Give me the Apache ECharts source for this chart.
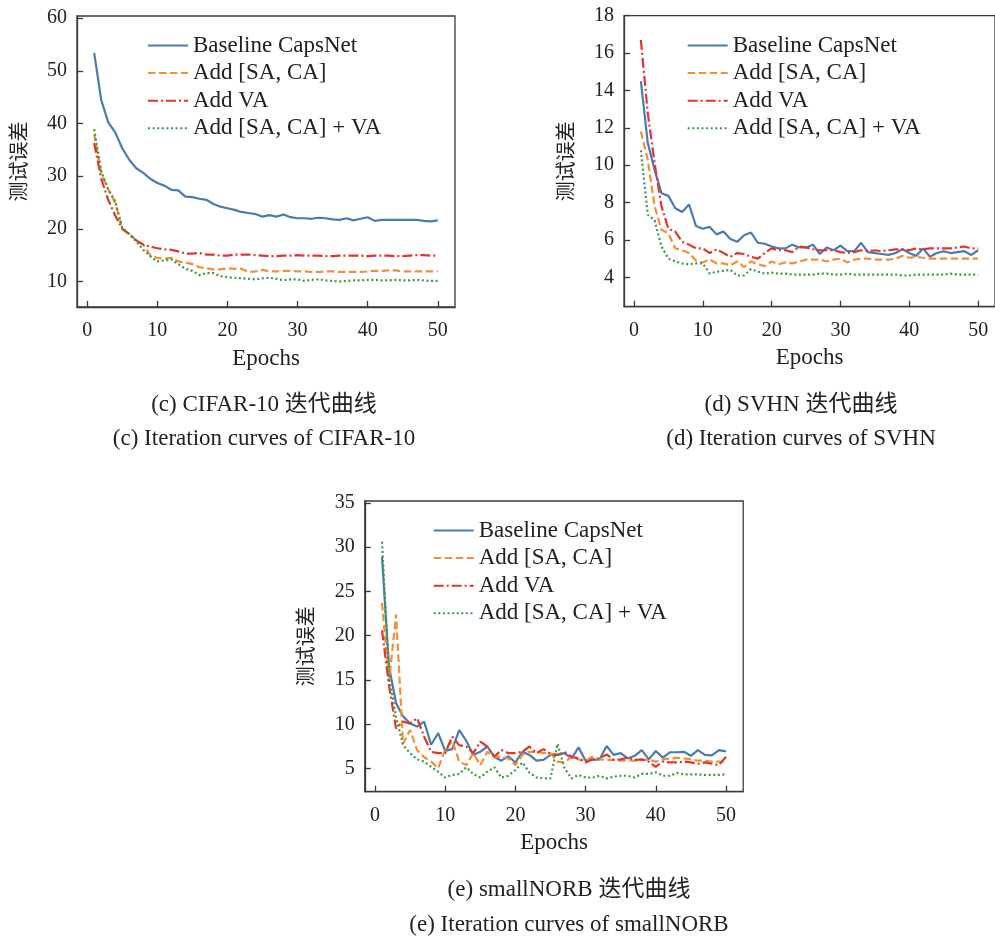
<!DOCTYPE html>
<html>
<head>
<meta charset="utf-8">
<script src="https://cdn.jsdelivr.net/npm/echarts@6/dist/echarts.min.js"></script>
<style>
html,body{margin:0;padding:0;background:#fff;}
#chart{width:995px;height:936px;}
</style>
</head>
<body>
<div id="chart"></div>
<script>
// ---------- data ----------
const epochs = [1,2,3,4,5,6,7,8,9,10,11,12,13,14,15,16,17,18,19,20,21,22,23,24,25,26,27,28,29,30,31,32,33,34,35,36,37,38,39,40,41,42,43,44,45,46,47,48,49,50];
const seriesNames = ['Baseline CapsNet', 'Add [SA, CA]', 'Add VA', 'Add [SA, CA] + VA'];
const xTickValues = [0, 10, 20, 30, 40, 50];

// (c) CIFAR-10
const cifarBaseline = [53.4,44.5,40.2,38.3,35.3,33.1,31.5,30.6,29.5,28.7, 28.2,27.4,27.3,26.1,26.0,25.7,25.5,24.7,24.2,23.9, 23.6,23.2,23.0,22.8,22.3,22.6,22.3,22.7,22.2,22.0, 22.0,21.9,22.1,22.0,21.8,21.7,22.0,21.6,21.9,22.2, 21.5,21.7,21.7,21.7,21.7,21.7,21.7,21.5,21.4,21.6];
const cifarSACA = [38.0,30.5,27.5,25.0,20.0,19.0,17.8,17.0,15.0,14.5, 14.3,14.5,13.8,13.6,13.3,12.7,12.5,12.3,12.3,12.5, 12.4,12.4,11.8,11.9,12.2,11.9,11.9,12.0,12.0,11.9, 11.9,11.8,11.8,11.9,11.9,11.8,11.8,11.8,11.8,11.9, 12.0,12.0,12.1,12.1,11.9,11.9,11.9,11.9,11.9,11.9];
const cifarVA = [36.3,29.5,25.5,22.5,20.0,19.0,17.8,17.0,16.6,16.3, 16.1,16.0,15.7,15.3,15.3,15.4,15.1,15.1,14.9,14.9, 15.1,15.1,15.1,15.0,14.9,14.8,14.8,14.9,14.9,15.0, 14.9,14.9,14.9,14.8,14.8,14.9,14.9,14.9,14.9,14.8, 14.9,14.9,14.9,14.8,14.8,14.9,15.0,15.0,14.9,14.9];
const cifarAll = [38.9,31.0,27.5,25.2,20.2,19.0,17.6,16.0,14.8,13.8, 14.0,14.2,13.3,12.4,12.0,11.2,11.6,11.6,11.0,10.8, 10.7,10.6,10.5,10.4,10.6,10.7,10.5,10.2,10.4,10.4, 10.1,10.3,10.4,10.2,10.1,10.0,10.1,10.2,10.2,10.3, 10.3,10.2,10.2,10.3,10.2,10.2,10.3,10.2,10.1,10.1];
const cifarYTicks = [10, 20, 30, 40, 50, 60];

// (d) SVHN
const svhnBaseline = [14.5,11.2,9.75,8.5,8.36,7.7,7.5,7.9,6.75,6.6, 6.7,6.3,6.45,6.05,5.9,6.25,6.4,5.85,5.8,5.65, 5.55,5.55,5.75,5.6,5.6,5.75,5.25,5.6,5.45,5.7, 5.4,5.4,5.85,5.35,5.3,5.25,5.2,5.3,5.5,5.3, 5.15,5.55,5.1,5.3,5.4,5.3,5.35,5.4,5.2,5.45];
const svhnSACA = [11.8,10.3,7.8,6.55,6.35,5.55,5.45,5.3,4.9,4.8, 4.95,4.75,4.75,4.65,4.85,4.55,4.85,4.7,4.6,4.85, 4.7,4.8,4.75,4.85,4.95,4.95,4.95,4.85,4.95,5.0, 4.8,4.95,5.0,5.0,4.95,4.95,4.95,5.0,5.15,5.05, 5.1,5.05,5.0,5.0,5.0,5.0,5.0,5.0,5.0,5.0];
const svhnVA = [16.7,12.8,10.1,7.8,6.6,6.45,5.9,5.75,5.55,5.55, 5.3,5.5,5.3,5.1,5.3,5.25,5.1,5.0,5.3,5.55, 5.45,5.45,5.35,5.65,5.6,5.5,5.45,5.45,5.45,5.35, 5.3,5.35,5.45,5.4,5.45,5.4,5.45,5.5,5.5,5.45, 5.55,5.5,5.55,5.55,5.55,5.55,5.6,5.65,5.55,5.55];
const svhnAll = [10.8,7.35,7.05,5.65,5.0,4.85,4.75,4.7,4.75,4.75, 4.2,4.3,4.35,4.4,4.1,4.1,4.45,4.3,4.2,4.25, 4.2,4.2,4.15,4.15,4.15,4.15,4.2,4.2,4.15,4.15, 4.2,4.15,4.15,4.15,4.15,4.15,4.15,4.15,4.1,4.1, 4.15,4.15,4.15,4.15,4.15,4.2,4.15,4.15,4.15,4.15];
const svhnYTicks = [4, 6, 8, 10, 12, 14, 16, 18];

// (e) smallNORB
const norbBaseline = [28.9,16.5,12.4,10.9,10.1,9.75,10.3,7.7,9.0,7.0, 7.2,9.35,8.15,6.55,6.9,7.5,6.35,5.9,6.4,5.7, 6.9,6.55,5.9,6.0,6.55,6.55,6.75,6.15,7.4,5.9, 6.0,6.05,7.55,6.55,6.75,6.15,6.45,7.1,6.05,7.0, 6.25,6.85,6.85,6.9,6.45,7.1,6.55,6.5,7.1,6.95];
const norbSACA = [23.7,14.8,22.4,7.85,9.35,7.1,6.3,5.8,5.05,7.1, 8.15,5.8,5.4,6.75,5.4,6.9,6.3,6.35,6.15,5.4, 6.55,6.9,6.9,6.75,6.75,5.8,5.7,6.35,6.05,5.9, 6.35,6.05,6.0,6.0,5.9,5.9,5.9,6.0,6.0,5.8, 6.05,6.15,6.25,6.15,6.05,5.9,5.9,5.8,5.8,5.8];
const norbVA = [20.6,14.4,9.55,10.3,10.1,10.7,8.6,6.9,6.75,6.75, 8.6,7.65,7.5,6.75,8.05,7.5,6.35,7.1,6.75,6.75, 6.9,7.5,6.75,7.2,6.65,6.55,6.9,6.35,6.15,5.7, 6.05,6.15,6.6,6.0,6.05,6.25,6.0,6.05,5.8,5.2, 5.8,5.7,5.7,5.8,5.7,5.55,5.7,5.55,5.4,6.35];
const norbAll = [30.6,15.4,10.85,7.65,6.75,6.05,5.8,5.2,4.65,4.0, 4.3,4.4,5.15,4.4,4.0,4.65,5.15,4.0,4.2,4.85, 5.7,4.55,4.0,3.9,3.9,7.8,5.05,3.9,4.3,4.0, 4.0,4.2,3.9,4.1,4.2,4.2,4.0,4.4,4.4,4.6, 4.2,4.2,4.5,4.35,4.35,4.35,4.3,4.3,4.3,4.35];
const norbYTicks = [5, 10, 15, 20, 25, 30, 35];

const captions = [
  ['(c) CIFAR-10 迭代曲线', '(c) Iteration curves of CIFAR-10'],
  ['(d) SVHN 迭代曲线', '(d) Iteration curves of SVHN'],
  ['(e) smallNORB 迭代曲线', '(e) Iteration curves of smallNORB']
];
const xName = 'Epochs';
const yName = '测试误差';

// ---------- styling ----------
const SERIF = '"Liberation Serif", "Noto Sans CJK SC", serif';
const CJK = '"Noto Sans CJK SC", sans-serif';
const TXT = '#222';
const FRAME = '#3a3a3a';
const lineStyles = [
  {color:'#4c7bb0', width:2.2, type:'solid'},
  {color:'#f2903a', width:2.2, type:[7.5,3.5]},
  {color:'#e0362c', width:2.2, type:[10,3,2,3]},
  {color:'#3a9a45', width:2.2, type:[2,2.6]}
];

const panels = [
  {grid:{left:77, top:16, width:378, height:291}, ymin:5.15, ymax:60.4, yticks:cifarYTicks,
   data:[cifarBaseline, cifarSACA, cifarVA, cifarAll], legend:{left:142, top:29},
   cap:{x:264, y1:405, y2:439}},
  {grid:{left:624, top:15.7, width:378.4, height:291}, ymin:2.43, ymax:18, yticks:svhnYTicks,
   data:[svhnBaseline, svhnSACA, svhnVA, svhnAll], legend:{left:681.7, top:29},
   cap:{x:801, y1:405, y2:439}},
  {grid:{left:364.8, top:501, width:378.4, height:290.7}, ymin:2.4, ymax:35.2, yticks:norbYTicks,
   data:[norbBaseline, norbSACA, norbVA, norbAll], legend:{left:427.7, top:514},
   cap:{x:569, y1:890, y2:925}}
];

const grids = [], xAxes = [], yAxes = [], series = [], legends = [], graphics = [];
panels.forEach((p, i) => {
  grids.push(Object.assign({show:true, borderColor:FRAME, borderWidth:1.3, backgroundColor:'transparent', containLabel:false}, p.grid));
  xAxes.push({
    type:'value', gridIndex:i, min:-1.45, max:52.45, position:'bottom',
    axisLine:{show:true, onZero:false, lineStyle:{color:FRAME, width:1.3}},
    axisTick:{show:true, inside:true, length:6, lineStyle:{color:FRAME, width:1.3}, customValues:xTickValues},
    axisLabel:{show:true, customValues:xTickValues, fontFamily:SERIF, fontSize:20, color:TXT, margin:14},
    splitLine:{show:false},
    name:xName, nameLocation:'middle', nameGap:40,
    nameTextStyle:{fontFamily:SERIF, fontSize:23, color:TXT}
  });
  yAxes.push({
    type:'value', gridIndex:i, min:p.ymin, max:p.ymax, position:'left',
    axisLine:{show:true, onZero:false, lineStyle:{color:FRAME, width:1.3}},
    axisTick:{show:true, inside:true, length:6, lineStyle:{color:FRAME, width:1.3}, customValues:p.yticks},
    axisLabel:{show:true, customValues:p.yticks, fontFamily:SERIF, fontSize:20, color:TXT, margin:10},
    splitLine:{show:false},
    name:yName, nameLocation:'middle', nameGap:49, nameRotate:90,
    nameTextStyle:{fontFamily:CJK, fontSize:20, color:TXT}
  });
  p.data.forEach((vals, k) => {
    series.push({
      type:'line', name:seriesNames[k], xAxisIndex:i, yAxisIndex:i,
      data: epochs.map((e, j) => [e, vals[j]]),
      symbol:'none', showSymbol:false, smooth:false,
      lineStyle:lineStyles[k], itemStyle:{color:lineStyles[k].color},
      z: 2 + k
    });
  });
  legends.push({
    orient:'vertical', left:p.legend.left, top:p.legend.top,
    itemWidth:40, itemHeight:14, itemGap:4.6, selectedMode:false,
    itemStyle:{opacity:0},
    textStyle:{fontFamily:SERIF, fontSize:23, color:TXT},
    data:seriesNames
  });
  graphics.push({type:'text', x:p.cap.x, y:p.cap.y1, style:{text:captions[i][0], font:'23px ' + SERIF, fill:TXT, textAlign:'center', textVerticalAlign:'middle'}});
  graphics.push({type:'text', x:p.cap.x, y:p.cap.y2, style:{text:captions[i][1], font:'23px ' + SERIF, fill:TXT, textAlign:'center', textVerticalAlign:'middle'}});
});

const chart = echarts.init(document.getElementById('chart'), null, {renderer:'canvas'});
chart.setOption({
  animation:false,
  backgroundColor:'#fff',
  grid:grids, xAxis:xAxes, yAxis:yAxes, series:series, legend:legends,
  graphic:graphics
});
</script>
</body>
</html>
